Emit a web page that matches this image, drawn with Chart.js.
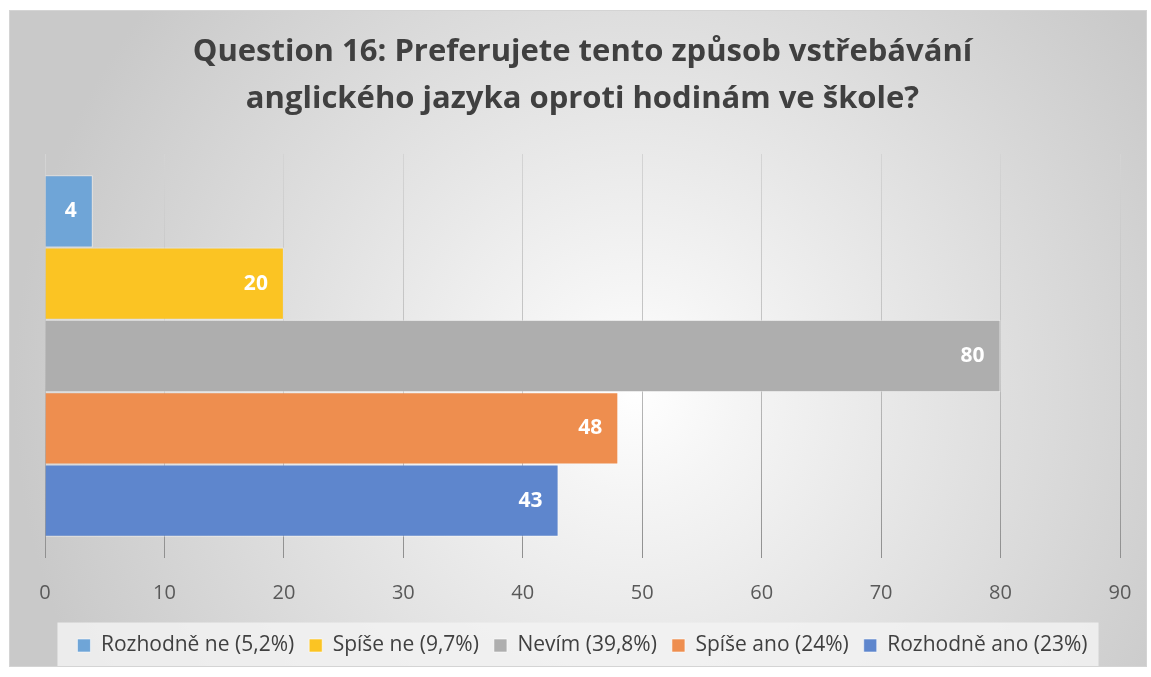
<!DOCTYPE html>
<html>
<head>
<meta charset="utf-8">
<script src="https://cdn.jsdelivr.net/npm/chart.js@4"></script>
<style>
  html, body { margin: 0; padding: 0; background: #fff; }
  #box {
    position: absolute; left: 9px; top: 10px;
    width: 1138px; height: 657px; box-sizing: border-box;
    border: 1px solid #d4d4d4;
    background: radial-gradient(circle at 55% 58%, #ffffff 0%, #f5f5f5 14%, #c9c9c9 85%);
  }
  #myChart { display: block; }
</style>
</head>
<body>
<div id="box"><canvas id="myChart" width="1136" height="655"></canvas></div>
<script>
// chart values
const categories = [''];
const seriesNames = ['Rozhodně ne (5,2%)', 'Spíše ne (9,7%)', 'Nevím (39,8%)', 'Spíše ano (24%)', 'Rozhodně ano (23%)'];
const seriesValues = [4, 20, 80, 48, 43];
const seriesColors = ['#6fa5d7', '#fbc423', '#aeaeae', '#ee8e4f', '#5e86cd'];
const xTicks = [0, 10, 20, 30, 40, 50, 60, 70, 80, 90];

const titleLines = ['Question 16: Preferujete tento způsob vstřebávání', 'anglického jazyka oproti hodinám ve škole?'];

// white value labels at the inner end of each bar
const barLabels = {
    id: 'barLabels',
    afterDatasetsDraw(chart) {
        const ctx = chart.ctx;
        ctx.save();
        ctx.font = 'bold 21px "Open Sans"';
        ctx.fillStyle = '#ffffff';
        ctx.textBaseline = 'middle';
        chart.data.datasets.forEach((ds, i) => {
            const bar = chart.getDatasetMeta(i).data[0];
            const txt = String(ds.data[0]);
            const w = ctx.measureText(txt).width;
            if (bar.x - bar.base < w + 30) {
                ctx.textAlign = 'center';
                ctx.fillText(txt, (bar.x + bar.base) / 2, bar.y);
            } else {
                ctx.textAlign = 'right';
                ctx.fillText(txt, bar.x - 16, bar.y);
            }
        });
        ctx.restore();
    }
};

// light panel behind the legend
const legendPanel = {
    id: 'legendPanel',
    beforeDraw(chart) {
        const hb = chart.legend.legendHitBoxes;
        if (!hb || !hb.length) return;
        const first = hb[0], last = hb[hb.length - 1];
        const ctx = chart.ctx;
        const top = first.top + first.height / 2 - 23;
        ctx.save();
        ctx.fillStyle = 'rgba(242,242,242,0.85)';
        ctx.fillRect(first.left - 20, top, last.left + last.width - first.left + 31, 46);
        ctx.restore();
    }
};

// gridlines get darker towards the bottom of the plot
function gridColor(c) {
    const area = c.chart.chartArea;
    if (!area) return '#c4c4c4';
    const g = c.chart.ctx.createLinearGradient(0, area.top, 0, area.bottom);
    g.addColorStop(0, '#d4d4d4');
    g.addColorStop(0.55, '#bdbdbd');
    g.addColorStop(1, '#8f8f8f');
    return g;
}

const ctx = document.getElementById('myChart').getContext('2d');
const myChart = new Chart(ctx, {
    type: 'bar',
    data: {
        labels: categories,
        datasets: seriesNames.map((name, i) => ({
            label: name,
            data: [seriesValues[i]],
            backgroundColor: seriesColors[i],
            borderColor: 'rgba(255,255,255,0.55)',
            borderWidth: 1,
            categoryPercentage: 0.895,
            barPercentage: 1.0
        }))
    },
    options: {
        indexAxis: 'y',
        responsive: false,
        animation: false,
        layout: { padding: { left: 35, right: 26, top: 0, bottom: 0 } },
        scales: {
            x: {
                min: 0, max: 90,
                afterBuildTicks(axis) { axis.ticks = xTicks.map(v => ({ value: v })); },
                afterFit(axis) { axis.height = 62; },
                grid: { color: gridColor, drawTicks: true, tickLength: 19, tickColor: 'rgba(0,0,0,0)', lineWidth: 1 },
                border: { display: false },
                ticks: { color: '#595959', font: { family: 'Open Sans', size: 20 }, padding: 4 }
            },
            y: { display: false }
        },
        plugins: {
            title: {
                display: true,
                text: titleLines,
                color: '#404040',
                font: { family: 'Open Sans', size: 31, weight: 'bold', lineHeight: 1.516 },
                padding: { top: 18, bottom: 31 }
            },
            legend: {
                position: 'bottom',
                labels: {
                    color: '#404040',
                    font: { family: 'Open Sans', size: 21 },
                    boxWidth: 13, boxHeight: 13,
                    padding: 15
                }
            },
            tooltip: { enabled: false }
        }
    },
    plugins: [barLabels, legendPanel]
});
</script>
</body>
</html>
